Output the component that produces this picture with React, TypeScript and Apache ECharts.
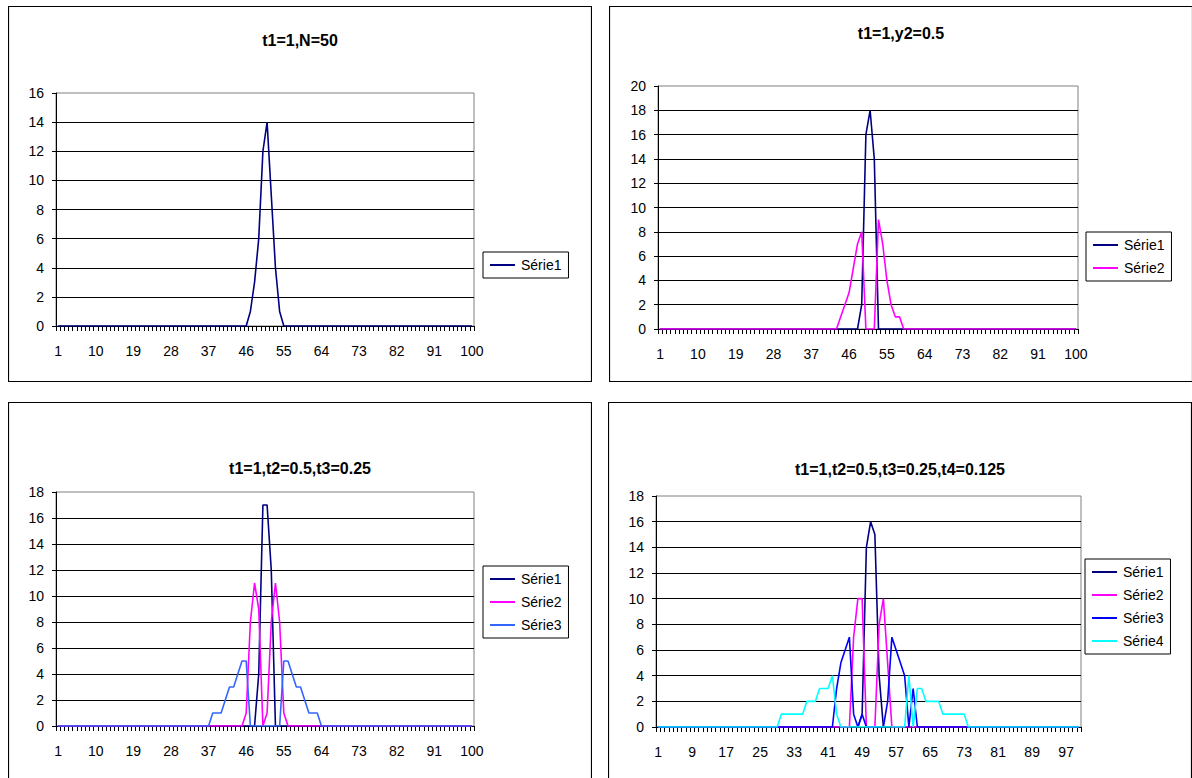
import React, { useEffect, useRef } from "react";
import * as echarts from "echarts";

const FONT = '"Liberation Sans", Arial, Helvetica, sans-serif';

// Category labels 1..100 (x axis)
const CATEGORY_COUNT = 100;
const CATEGORIES: string[] = Array.from({ length: CATEGORY_COUNT }, (_, i) => String(i + 1));

// Non-zero stretches of each series: [first category, values...]; everything else is 0
const C1_SERIE1: [number, number[]][] = [[47, [1, 3, 6, 12, 14, 9, 4, 1]]];

const C2_SERIE1: [number, number[]][] = [[49, [2, 16, 18, 14]]];
const C2_SERIE2: [number, number[]][] = [
  [44, [1, 2, 3, 5, 7, 8]],
  [53, [9, 7, 4, 2, 1, 1]],
];

const C3_SERIE1: [number, number[]][] = [[49, [4, 17, 17, 12]]];
const C3_SERIE2: [number, number[]][] = [
  [46, [1, 8, 11, 9]],
  [51, [1, 8, 11, 8, 1]],
];
const C3_SERIE3: [number, number[]][] = [
  [38, [1, 1, 1, 2, 3, 3, 4, 5, 5]],
  [55, [5, 5, 4, 3, 3, 2, 1, 1, 1]],
];

const C4_SERIE1: [number, number[]][] = [[49, [1, 14, 16, 15, 4]]];
const C4_SERIE2: [number, number[]][] = [
  [47, [7, 10, 10]],
  [53, [8, 10, 5]],
];
const C4_SERIE3: [number, number[]][] = [
  [43, [3, 5, 6, 7, 1, 0, 1]],
  [55, [2, 7, 6, 5, 4, 0, 3]],
];
const C4_SERIE4: [number, number[]][] = [
  [30, [1, 1, 1, 1, 1, 1, 2, 2, 2, 3, 3, 3, 4, 1]],
  [60, [4, 0, 3, 3, 2, 2, 2, 2, 1, 1, 1, 1, 1, 1]],
];

const TITLES = [
  "t1=1,N=50",
  "t1=1,y2=0.5",
  "t1=1,t2=0.5,t3=0.25",
  "t1=1,t2=0.5,t3=0.25,t4=0.125",
];
const Y_MAX = [16, 20, 18, 18];
const X_LABEL_STEP = [9, 9, 9, 8];

const NAVY = "#000080";
const MAGENTA = "#FF00FF";
const LIGHT_BLUE = "#3366FF";
const BLUE = "#0000FF";
const CYAN = "#00FFFF";

function expand(segments: [number, number[]][]): number[] {
  const out = new Array(CATEGORY_COUNT).fill(0);
  segments.forEach(([start, vals]) => {
    vals.forEach((v, k) => {
      out[start - 1 + k] = v;
    });
  });
  return out;
}

type SeriesDef = { name: string; color: string; data: [number, number[]][] };

type PanelCfg = {
  title: string;
  titleTop: number;
  yMax: number;
  labelStep: number;
  grid: { left: number; top: number; width: number; height: number };
  legend: { left: number; top: number };
  series: SeriesDef[];
};

const PANELS: { x: number; y: number; h: number; cfg: PanelCfg }[] = [
  {
    x: 8,
    y: 6,
    h: 376,
    cfg: {
      title: TITLES[0],
      titleTop: 26,
      yMax: Y_MAX[0],
      labelStep: X_LABEL_STEP[0],
      grid: { left: 48, top: 87, width: 418, height: 233 },
      legend: { left: 475, top: 246 },
      series: [{ name: "Série1", color: NAVY, data: C1_SERIE1 }],
    },
  },
  {
    x: 609,
    y: 6,
    h: 376,
    cfg: {
      title: TITLES[1],
      titleTop: 19,
      yMax: Y_MAX[1],
      labelStep: X_LABEL_STEP[1],
      grid: { left: 49, top: 80, width: 420, height: 243 },
      legend: { left: 477, top: 226 },
      series: [
        { name: "Série1", color: NAVY, data: C2_SERIE1 },
        { name: "Série2", color: MAGENTA, data: C2_SERIE2 },
      ],
    },
  },
  {
    x: 8,
    y: 402,
    h: 390,
    cfg: {
      title: TITLES[2],
      titleTop: 58,
      yMax: Y_MAX[2],
      labelStep: X_LABEL_STEP[2],
      grid: { left: 48, top: 90, width: 418, height: 234 },
      legend: { left: 475, top: 164 },
      series: [
        { name: "Série1", color: NAVY, data: C3_SERIE1 },
        { name: "Série2", color: MAGENTA, data: C3_SERIE2 },
        { name: "Série3", color: LIGHT_BLUE, data: C3_SERIE3 },
      ],
    },
  },
  {
    x: 608,
    y: 402,
    h: 390,
    cfg: {
      title: TITLES[3],
      titleTop: 59,
      yMax: Y_MAX[3],
      labelStep: X_LABEL_STEP[3],
      grid: { left: 48, top: 94, width: 425, height: 231 },
      legend: { left: 477, top: 157 },
      series: [
        { name: "Série1", color: NAVY, data: C4_SERIE1 },
        { name: "Série2", color: MAGENTA, data: C4_SERIE2 },
        { name: "Série3", color: BLUE, data: C4_SERIE3 },
        { name: "Série4", color: CYAN, data: C4_SERIE4 },
      ],
    },
  },
];

const PANEL_W = 584;

function buildOption(cfg: PanelCfg, h: number): any {
  return {
    animation: false,
    backgroundColor: "#ffffff",
    title: {
      text: cfg.title,
      left: "center",
      top: cfg.titleTop,
      padding: 0,
      textStyle: { fontFamily: FONT, fontSize: 16, fontWeight: "bold", color: "#000" },
    },
    legend: {
      orient: "vertical",
      left: cfg.legend.left,
      top: cfg.legend.top,
      data: cfg.series.map((s) => s.name),
      icon: "rect",
      itemWidth: 25,
      itemHeight: 2,
      itemGap: 9,
      padding: [6, 7, 6, 7],
      borderColor: "#000",
      borderWidth: 1,
      backgroundColor: "#fff",
      selectedMode: false,
      textStyle: { fontFamily: FONT, fontSize: 14, color: "#000", padding: [0, 0, 0, 1] },
    },
    grid: {
      left: cfg.grid.left,
      top: cfg.grid.top,
      width: cfg.grid.width,
      height: cfg.grid.height,
      show: true,
      borderColor: "#808080",
      borderWidth: 1,
      backgroundColor: "transparent",
    },
    xAxis: {
      type: "category",
      data: CATEGORIES,
      boundaryGap: true,
      axisLine: { show: true, lineStyle: { color: "#000", width: 1 } },
      axisTick: { show: true, interval: 0, length: 5, lineStyle: { color: "#000", width: 1 } },
      axisLabel: {
        interval: cfg.labelStep - 1,
        color: "#000",
        fontFamily: FONT,
        fontSize: 14,
        margin: 18,
      },
      splitLine: { show: false },
    },
    yAxis: {
      type: "value",
      min: 0,
      max: cfg.yMax,
      interval: 2,
      axisLine: { show: true, lineStyle: { color: "#000", width: 1 } },
      axisTick: { show: true, length: 4, lineStyle: { color: "#000" } },
      axisLabel: { color: "#000", fontFamily: FONT, fontSize: 14, margin: 12 },
      splitLine: { show: true, showMaxLine: false, lineStyle: { color: "#000", width: 1 } },
    },
    series: cfg.series.map((s) => ({
      name: s.name,
      type: "line",
      data: expand(s.data),
      symbol: "none",
      showSymbol: false,
      color: s.color,
      lineStyle: { color: s.color, width: 1.6 },
      itemStyle: { color: s.color },
      emphasis: { disabled: true },
    })),
    graphic: [
      {
        type: "rect",
        silent: true,
        shape: { x: 0.5, y: 0.5, width: PANEL_W - 1, height: h - 1 },
        style: { fill: "none", stroke: "#000", lineWidth: 1.2 },
      },
    ],
  };
}

function Panel({ x, y, h, cfg }: { x: number; y: number; h: number; cfg: PanelCfg }) {
  const ref = useRef<HTMLDivElement>(null);
  useEffect(() => {
    if (!ref.current) return;
    const chart = echarts.init(ref.current, undefined, { renderer: "svg" });
    chart.setOption(buildOption(cfg, h));
    return () => chart.dispose();
  }, [cfg, h]);
  return (
    <div
      ref={ref}
      style={{ position: "absolute", left: x, top: y, width: PANEL_W, height: h }}
    />
  );
}

export default function App() {
  return (
    <div
      style={{
        position: "fixed",
        left: 0,
        top: 0,
        width: 1192,
        height: 778,
        overflow: "hidden",
        background: "#ffffff",
      }}
    >
      {PANELS.map((p, i) => (
        <Panel key={i} x={p.x} y={p.y} h={p.h} cfg={p.cfg} />
      ))}
    </div>
  );
}
